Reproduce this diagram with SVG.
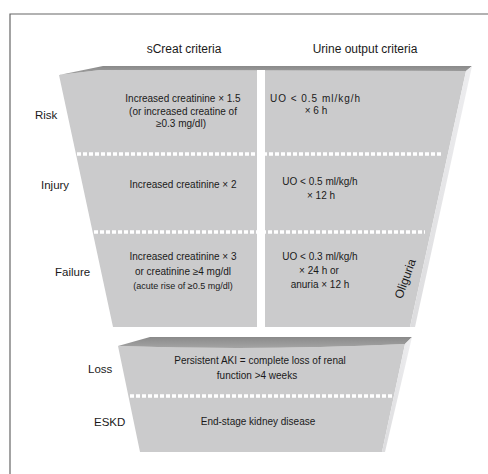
<svg xmlns="http://www.w3.org/2000/svg" width="488" height="474" viewBox="0 0 488 474">
  <defs>
    <linearGradient id="topface" x1="0" y1="0" x2="0" y2="1">
      <stop offset="0" stop-color="#8a8a8a"/>
      <stop offset="1" stop-color="#a4a4a4"/>
    </linearGradient>
    <linearGradient id="side" x1="0" y1="0" x2="1" y2="0">
      <stop offset="0" stop-color="#dcdcde"/>
      <stop offset="1" stop-color="#eeeef0"/>
    </linearGradient>
  </defs>
  <style>
    text { font-family: "Liberation Sans", Arial, sans-serif; fill: #1a1a1a; }
    .hdr { font-size: 12px; text-anchor: middle; }
    .lbl { font-size: 11.5px; }
    .body { font-size: 10px; text-anchor: middle; }
    .small { font-size: 9px; text-anchor: middle; }
    .face { fill: #cbcbcc; }
    .top { fill: url(#topface); }
    .side { fill: url(#side); }
    .dash { stroke: #ffffff; stroke-width: 3.5; stroke-dasharray: 4 2; fill: none; }
    .frame { stroke: #666666; stroke-width: 1.2; fill: none; }
  </style>

  <!-- frame -->
  <path class="frame" d="M488 14 H10 V474"/>

  <!-- column headers -->
  <g id="headers">
    <text class="hdr" x="184" y="53">sCreat criteria</text>
    <text class="hdr" x="365" y="53">Urine output criteria</text>
  </g>

  <!-- upper funnel (AKI stages) -->
  <g id="upper-funnel">
    <polygon class="face" points="59,75 100,70 466,71 410,327 113,327"/>
    <polygon class="top" points="59,75 103,66 472,66 466,71 100,70"/>
    <polygon class="side" points="466,71 472,66 415,327 410,327"/>
    <rect x="257" y="70" width="8" height="257" fill="#ffffff"/>
    <line class="dash" x1="77" y1="154" x2="443" y2="154"/>
    <line class="dash" x1="94" y1="232" x2="425" y2="232"/>
    <text x="406" y="279" font-size="12" text-anchor="middle" transform="rotate(-70 406 279)" dominant-baseline="middle">Oliguria</text>
  </g>

  <g id="risk">
    <text class="lbl" x="35" y="119">Risk</text>
    <text class="body" x="183" y="102">Increased creatinine × 1.5</text>
    <text class="body" x="183" y="115">(or increased creatine of</text>
    <text class="body" x="181" y="127">≥0.3 mg/dl)</text>
    <text x="270" y="102" font-size="10" textLength="90" lengthAdjust="spacing">UO &lt; 0.5 ml/kg/h</text>
    <text class="body" x="316" y="114">× 6 h</text>
  </g>

  <g id="injury">
    <text class="lbl" x="41" y="189">Injury</text>
    <text class="body" x="183" y="188">Increased creatinine × 2</text>
    <text class="body" x="320" y="185">UO &lt; 0.5 ml/kg/h</text>
    <text class="body" x="321" y="199">× 12 h</text>
  </g>

  <g id="failure">
    <text class="lbl" x="55" y="276">Failure</text>
    <text class="body" x="183" y="260">Increased creatinine × 3</text>
    <text class="body" x="183" y="275">or creatinine ≥4 mg/dl</text>
    <text class="small" x="183" y="289">(acute rise of ≥0.5 mg/dl)</text>
    <text class="body" x="320" y="260">UO &lt; 0.3 ml/kg/h</text>
    <text class="body" x="319" y="274">× 24 h or</text>
    <text class="body" x="320" y="288">anuria × 12 h</text>
  </g>

  <!-- lower funnel (outcomes) -->
  <g id="lower-funnel">
    <path class="face" d="M118,346 Q260,351 405,344 L382,452 L140,452 Z"/>
    <path class="top" d="M118,346 L150,337 L412,337 L405,344 Q260,351 118,346 Z"/>
    <polygon class="side" points="405,344 412,337 385,452 382,452"/>
    <line class="dash" x1="130" y1="396" x2="393" y2="396"/>
  </g>

  <g id="loss">
    <text class="lbl" x="88" y="373">Loss</text>
    <text class="body" x="260" y="364">Persistent AKI = complete loss of renal</text>
    <text class="body" x="257" y="379">function &gt;4 weeks</text>
  </g>

  <g id="eskd">
    <text class="lbl" x="94" y="426">ESKD</text>
    <text class="body" x="258" y="425">End-stage kidney disease</text>
  </g>

  <g id="connectors"/>
</svg>
